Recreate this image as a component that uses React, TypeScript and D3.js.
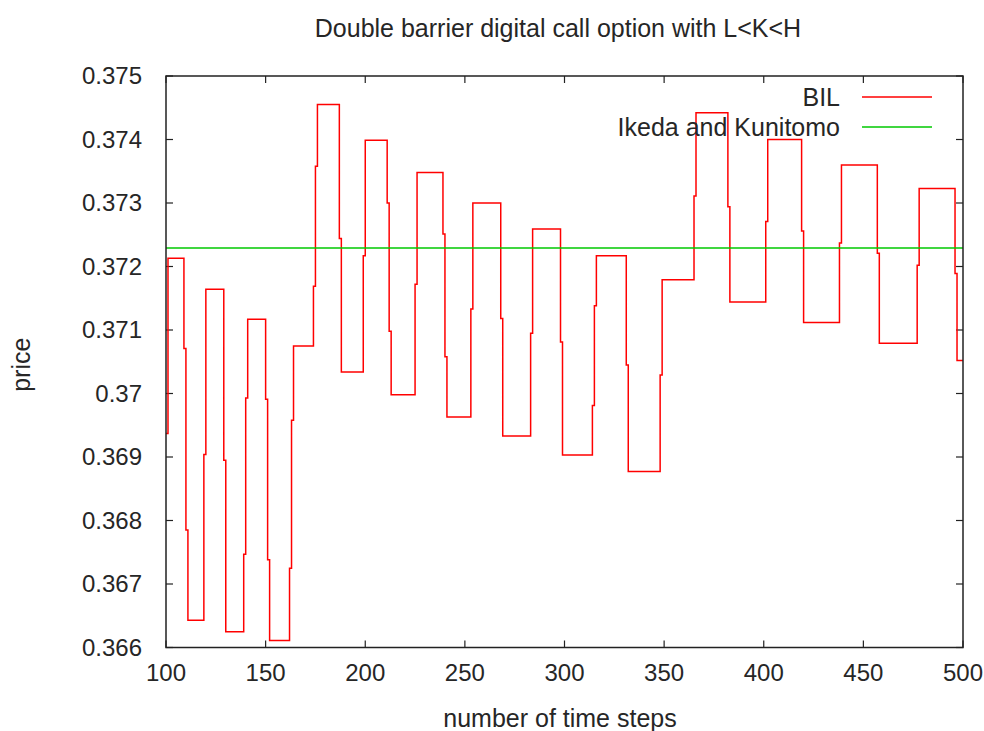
import React from "react";
import * as d3 from "d3";

const steps = [100,101,109,110,111,119,120,129,130,139,140,141,150,151,152,162,163,164,174,175,176,187,188,199,200,211,212,213,225,226,239,240,241,253,254,268,269,283,284,298,299,314,315,316,331,332,348,349,365,366,382,383,401,402,419,420,438,439,457,458,477,478,496,497,500];
const bilValues = [0.36937,0.37213,0.37071,0.36785,0.36643,0.36904,0.37164,0.36895,0.36625,0.36747,0.36993,0.37117,0.36991,0.36738,0.36611,0.36725,0.36958,0.37075,0.37169,0.37358,0.37455,0.37244,0.37034,0.37217,0.37399,0.37300,0.37098,0.36998,0.37172,0.37348,0.37251,0.37058,0.36963,0.37133,0.37300,0.37118,0.36933,0.37095,0.37259,0.37081,0.36903,0.36981,0.37138,0.37217,0.37045,0.36877,0.37029,0.37179,0.37311,0.37442,0.37294,0.37144,0.37271,0.37400,0.37256,0.37112,0.37237,0.37360,0.37221,0.37079,0.37202,0.37323,0.37189,0.37052,0.37052];
const ikedaValue = 0.37229;
const xTicks = [100,150,200,250,300,350,400,450,500];
const yTicks = [0.366,0.367,0.368,0.369,0.37,0.371,0.372,0.373,0.374,0.375];
const yTickLabels = ["0.366","0.367","0.368","0.369","0.37","0.371","0.372","0.373","0.374","0.375"];
const title = "Double barrier digital call option with L<K<H";
const xLabel = "number of time steps";
const yLabel = "price";
const seriesNames = ["BIL", "Ikeda and Kunitomo"];

const W = 984, H = 731;
const L = 166, R = 963, T = 76, B = 647.5;
const FONT = "'Liberation Sans', Arial, sans-serif";
const TXT = "#262626";
const FS = 25;
const FT = 24;

export default function App() {
  const x = d3.scaleLinear().domain([100, 500]).range([L, R]);
  const y = d3.scaleLinear().domain([0.366, 0.375]).range([B, T]);
  const pts: [number, number][] = steps.map((s, i) => [s, bilValues[i]]);
  const line = d3.line<[number, number]>().x(d => x(d[0])).y(d => y(d[1])).curve(d3.curveStepAfter);
  const tk = 7;
  return (
    <svg width={W} height={H} style={{ position: "absolute", left: 0, top: 0, background: "#fff" }} fontFamily={FONT}>
      <rect x={0} y={0} width={W} height={H} fill="#fff" />
      <defs>
        <clipPath id="plot"><rect x={L} y={T} width={R - L} height={B - T} /></clipPath>
      </defs>
      <text x={558} y={37} textAnchor="middle" fontSize={FS} fill={TXT}>{title}</text>
      {xTicks.map(t => (
        <g key={"x" + t}>
          <line x1={x(t)} x2={x(t)} y1={B} y2={B - tk} stroke="#222" strokeWidth={1.2} />
          <line x1={x(t)} x2={x(t)} y1={T} y2={T + tk} stroke="#222" strokeWidth={1.2} />
          <text x={x(t)} y={681} textAnchor="middle" fontSize={FT} fill={TXT}>{t}</text>
        </g>
      ))}
      {yTicks.map((t, i) => (
        <g key={"y" + t}>
          <line x1={L} x2={L + tk} y1={y(t)} y2={y(t)} stroke="#222" strokeWidth={1.2} />
          <line x1={R} x2={R - tk} y1={y(t)} y2={y(t)} stroke="#222" strokeWidth={1.2} />
          <text x={142} y={y(t)} dy="0.35em" textAnchor="end" fontSize={FT} fill={TXT}>{yTickLabels[i]}</text>
        </g>
      ))}
      <text transform={`translate(30,${(T + B) / 2 + 3}) rotate(-90)`} textAnchor="middle" fontSize={FS} fill={TXT}>{yLabel}</text>
      <text x={560} y={727} textAnchor="middle" fontSize={FS} fill={TXT}>{xLabel}</text>
      <g clipPath="url(#plot)">
        <path d={line(pts) || ""} fill="none" stroke="#ff0000" strokeWidth={1.5} />
        <line x1={L} x2={R} y1={y(ikedaValue)} y2={y(ikedaValue)} stroke="#00c800" strokeWidth={1.5} />
      </g>
      <text x={840} y={97} dy="0.35em" textAnchor="end" fontSize={FS} fill={TXT}>{seriesNames[0]}</text>
      <line x1={862} x2={932} y1={97} y2={97} stroke="#ff0000" strokeWidth={1.5} />
      <text x={840} y={127} dy="0.35em" textAnchor="end" fontSize={FS} fill={TXT}>{seriesNames[1]}</text>
      <line x1={862} x2={932} y1={127} y2={127} stroke="#00c800" strokeWidth={1.5} />
      <rect x={L} y={T} width={R - L} height={B - T} fill="none" stroke="#222" strokeWidth={1.5} />
    </svg>
  );
}
